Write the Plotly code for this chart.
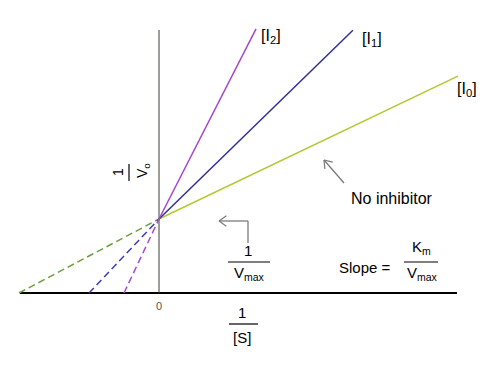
import math
import plotly.graph_objects as go

# ---- data (x in units of 1/[S], y in units of 1/V0) ----
series_labels = ["[I<sub>0</sub>]", "[I<sub>1</sub>]", "[I<sub>2</sub>]"]
x_intercepts = [-2.0, -1.0, -0.5]          # -1/Km(app) for each inhibitor level
inv_vmax = 1.0                              # common y-intercept 1/Vmax
solid_end_x = [4.27, 2.77, 1.386]
solid_end_y = [2.93, 3.55, 3.57]
solid_colors = ["#b4c832", "#30309a", "#a448c8"]
dash_colors = ["#6c9e3c", "#3c3cb4", "#a64ad4"]
x_axis_extent = [-1.986, 4.257]
y_axis_extent = [0.0, 3.554]

W, H = 500, 372
OFF = 8                       # page body margin that shifts the figure
X0PX, Y0PX = 159.0, 293.0     # pixel location of the origin (in the page)
XU, YU = 70.0, 74.0           # pixels per data unit


def X(px):
    return (px - OFF) / W


def Y(py):
    return 1 - (py - OFF) / H


fig = go.Figure()

# axes drawn as lines
fig.add_trace(go.Scatter(x=x_axis_extent, y=[0, 0], mode="lines",
                         line=dict(color="#000000", width=2), hoverinfo="skip"))
fig.add_trace(go.Scatter(x=[0, 0], y=y_axis_extent, mode="lines",
                         line=dict(color="#3c3c2c", width=1), hoverinfo="skip"))

for i in range(3):
    # dashed extrapolation to the x-intercept
    fig.add_trace(go.Scatter(x=[x_intercepts[i], 0], y=[0, inv_vmax], mode="lines",
                             line=dict(color=dash_colors[i], width=1.5, dash="7px,4px"),
                             hoverinfo="skip"))
    # solid line
    fig.add_trace(go.Scatter(x=[0, solid_end_x[i]], y=[inv_vmax, solid_end_y[i]], mode="lines",
                             line=dict(color=solid_colors[i], width=1.5),
                             hoverinfo="skip"))

FONT = "Liberation Sans, Arial, sans-serif"
ann = []


def text(px, py, s, size=15, angle=0, color="#000000", xanchor="center"):
    ann.append(dict(x=X(px), y=Y(py), xref="paper", yref="paper", text=s,
                    showarrow=False, textangle=angle, xanchor=xanchor, yanchor="middle",
                    font=dict(family=FONT, size=size, color=color)))


# series labels
label_pos = [(467, 89), (372, 39), (271, 36)]
for (px, py), s in zip(label_pos, series_labels):
    text(px, py, s, size=16)

# rotated 1/V0 label
text(118, 172, "1", size=14, angle=-90)
text(143, 171, "V<sub>o</sub>", size=14, angle=-90)

# 0 tick
text(159, 306, "0", size=11, color="#555555")

# 1/[S]
text(242, 312, "1", size=15)
text(242, 337, "[S]", size=15)

# 1/Vmax
text(248, 250, "1", size=15)
text(249, 273, "V<sub>max</sub>", size=15)

# Slope = Km/Vmax
text(337, 267, "Slope =", size=15, xanchor="left")
text(421, 247, "K<sub>m</sub>", size=15)
text(422, 273, "V<sub>max</sub>", size=15)

# No inhibitor
text(392, 198, "No inhibitor", size=16)

shapes = []


def seg(x1, y1, x2, y2, color="#000000", width=1.2):
    shapes.append(dict(type="line", xref="paper", yref="paper",
                       x0=X(x1), y0=Y(y1), x1=X(x2), y1=Y(y2),
                       line=dict(color=color, width=width)))


def chevron(hx, hy, tx, ty, color, length=9, spread=35):
    ang = math.atan2(ty - hy, tx - hx)
    for d in (-spread, spread):
        a = ang + math.radians(d)
        seg(hx, hy, hx + length * math.cos(a), hy + length * math.sin(a), color, 1.2)


# fraction bars
seg(129, 164, 129, 181, "#000000", 1.2)      # rotated bar of 1/V0
seg(229, 324, 258, 324, "#000000", 1.2)      # 1/[S]
seg(228, 262, 270, 262, "#000000", 1.2)      # 1/Vmax
seg(404, 262, 438, 262, "#000000", 1.2)      # Km/Vmax

# arrows
grey = "#7a7a7a"
seg(344, 183, 324, 160, grey, 1.3)
chevron(324, 160, 344, 183, grey)
seg(248, 243, 248, 221, grey, 1.3)
seg(248, 221, 219, 221, grey, 1.3)
chevron(219, 221, 248, 221, grey)

fig.update_layout(
    width=W, height=H,
    margin=dict(l=0, r=0, t=0, b=0),
    paper_bgcolor="#ffffff", plot_bgcolor="#ffffff",
    showlegend=False,
    xaxis=dict(range=[-(X0PX - OFF) / XU, (W - (X0PX - OFF)) / XU], visible=False, fixedrange=True),
    yaxis=dict(range=[-(H - (Y0PX - OFF)) / YU, (Y0PX - OFF) / YU], visible=False, fixedrange=True),
    annotations=ann,
    shapes=shapes,
)

fig.write_html("out.html")
